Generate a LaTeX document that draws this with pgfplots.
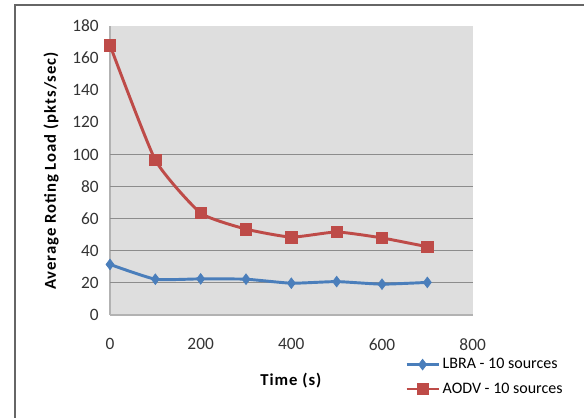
\documentclass[border=0pt]{standalone}
\usepackage{pgfplots}
\pgfplotsset{compat=1.18}
\usepackage{fontspec}
\setmainfont{Carlito}
\newfontfamily\wide[LetterSpace=6]{Carlito}
\definecolor{redS}{HTML}{BE4B48}
\definecolor{blueS}{HTML}{4A7EBB}
\definecolor{bgG}{HTML}{DEDEDE}
\definecolor{gridG}{HTML}{8C8C8C}
\begin{document}
\begin{tikzpicture}[x=1pt,y=1pt]
\useasboundingbox (0,0) rectangle (438,312.75);
\draw[gray!80!black, line width=1.2pt] (11.25,-20) rectangle (460,309);
\begin{axis}[
  at={(82.5pt,76.5pt)}, anchor=south west,
  scale only axis, width=272pt, height=216.75pt,
  xmin=0, xmax=800, ymin=0, ymax=180,
  xtick={0,200,...,800}, ytick={0,20,...,180},
  extra y ticks={20,40,60,80,100}, extra y tick labels={},
  extra y tick style={ymajorgrids=true, major grid style={gridG, line width=0.8pt}, tick style={draw=none}},
  axis background/.style={fill=bgG},
  axis line style={draw=gray!60, line width=0.8pt},
  axis x line*=bottom, axis y line*=left,
  tick style={draw=none},
  /pgf/number format/assume math mode=true,
  ticklabel style={font=\fontsize{13}{15}\selectfont, text=black!80},
  xticklabel style={yshift=-14pt},
  yticklabel style={xshift=-5pt},
  xlabel={\textbf{Time (s)}},
  xlabel style={font=\wide\fontsize{12.5}{14}\selectfont, at={(axis description cs:0.5,0)}, yshift=-40pt, anchor=north},
  ylabel={\textbf{Average Roting Load (pkts/sec)}},
  ylabel style={font=\wide\fontsize{12.5}{14}\selectfont, at={(axis description cs:0,0.5)}, yshift=35pt, anchor=south},
  legend style={at={(0.813,-0.14)}, anchor=north west, draw=none, fill=none,
    font=\fontsize{12}{14}\selectfont, row sep=5pt, inner sep=0pt},
  legend cell align=left,
  legend image code/.code={\draw[#1] (0pt,0pt) -- (24pt,0pt); \draw[#1, only marks] plot coordinates {(12pt,0pt)};},
]
\addplot[blueS, line width=2.2pt, smooth, tension=0.3, mark=diamond*, mark size=4pt, mark options={line width=0.5pt}]
  coordinates {(0,31.5) (100,22.3) (200,22.5) (300,22.3) (400,19.8) (500,20.8) (600,19.2) (700,20.3)};
\addlegendentry{LBRA - 10 sources}
\addplot[redS, line width=2.2pt, smooth, tension=0.3, mark=square*, mark size=4.3pt, mark options={line width=0.5pt}]
  coordinates {(0,168) (100,96.5) (200,63.5) (300,53.5) (400,48.5) (500,51.7) (600,48) (700,42.5)};
\addlegendentry{AODV - 10 sources}
\end{axis}
\end{tikzpicture}
\end{document}
